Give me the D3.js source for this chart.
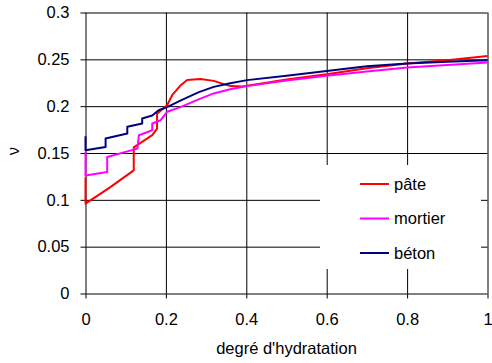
<!DOCTYPE html>
<html>
<head>
<meta charset="utf-8">
<script src="https://cdn.jsdelivr.net/npm/d3@7"></script>
<style>
  body { margin: 0; background: #fff; }
  text { font-family: "Liberation Sans", Arial, sans-serif; fill: #000; }
</style>
</head>
<body>
<div id="chart"></div>
<script>
// degré d'hydratation (x) and coefficient de Poisson (y)
const pateX = [0, 0, 0.06, 0.12, 0.12, 0.166, 0.178, 0.178, 0.203, 0.216, 0.236, 0.253, 0.286, 0.319, 0.344, 0.361, 0.39, 0.45, 0.5, 0.6, 0.7, 0.8, 0.9, 1.0];
const pateY = [0.124, 0.096, 0.113, 0.1315, 0.156, 0.169, 0.176, 0.192, 0.201, 0.212, 0.222, 0.228, 0.229, 0.227, 0.2235, 0.2214, 0.221, 0.225, 0.2285, 0.234, 0.2405, 0.2455, 0.249, 0.2535];

const mortierX = [0, 0, 0.054, 0.054, 0.129, 0.133, 0.166, 0.166, 0.187, 0.203, 0.236, 0.28, 0.319, 0.36, 0.402, 0.5, 0.6, 0.7, 0.8, 0.9, 1.0];
const mortierY = [0.151, 0.126, 0.1297, 0.1458, 0.1547, 0.169, 0.1743, 0.1815, 0.185, 0.194, 0.199, 0.207, 0.2136, 0.218, 0.2214, 0.2275, 0.2325, 0.237, 0.2414, 0.244, 0.2465];

const betonX = [0, 0, 0.05, 0.05, 0.104, 0.104, 0.141, 0.141, 0.166, 0.182, 0.203, 0.236, 0.282, 0.319, 0.36, 0.402, 0.5, 0.6, 0.7, 0.8, 0.9, 1.0];
const betonY = [0.168, 0.153, 0.1565, 0.1654, 0.1708, 0.178, 0.1815, 0.1868, 0.19, 0.1957, 0.199, 0.206, 0.215, 0.2206, 0.2245, 0.2278, 0.2325, 0.2375, 0.2425, 0.2456, 0.2475, 0.249];

const seriesNames = ['pâte', 'mortier', 'béton'];
const seriesColors = ['#ff0000', '#ff00ff', '#000080'];
const xTicks = [0, 0.2, 0.4, 0.6, 0.8, 1];
const yTicks = [0, 0.05, 0.1, 0.15, 0.2, 0.25, 0.3];

const width = 492, height = 363;
const margin = {left: 85.5, right: 4.5, top: 12.5, bottom: 69.5};
const plotW = width - margin.left - margin.right;
const plotH = height - margin.top - margin.bottom;

const svg = d3.select('#chart').append('svg')
  .attr('width', width).attr('height', height);

const x = d3.scaleLinear().domain([0, 1]).range([margin.left, width - margin.right]);
const y = d3.scaleLinear().domain([0, 0.3]).range([height - margin.bottom, margin.top]);

// grid (axis with long ticks, no labels)
const yGrid = svg.append('g')
  .attr('transform', 'translate(' + x(0) + ',0)')
  .call(d3.axisRight(y).tickValues(yTicks).tickSize(plotW).tickFormat(''));
const xGrid = svg.append('g')
  .attr('transform', 'translate(0,' + y(0.3) + ')')
  .call(d3.axisBottom(x).tickValues(xTicks).tickSize(plotH).tickFormat(''));
[yGrid, xGrid].forEach(g => {
  g.select('.domain').remove();
  g.selectAll('line').attr('stroke', '#000').attr('stroke-width', 1);
});

// axes
const fmt = d => String(d);
const yAxis = d3.axisLeft(y).tickValues(yTicks).tickFormat(fmt).tickSize(5).tickSizeOuter(0).tickPadding(11);
const yg = svg.append('g').attr('transform', 'translate(' + x(0) + ',0)').call(yAxis);
const xAxis = d3.axisBottom(x).tickValues(xTicks).tickFormat(fmt).tickSize(5).tickSizeOuter(0).tickPadding(15);
const xg = svg.append('g').attr('transform', 'translate(0,' + y(0) + ')').call(xAxis);
[yg, xg].forEach(g => {
  g.select('.domain').remove();
  g.selectAll('line').attr('stroke', '#000');
  g.selectAll('text').style('font-size', '16.5px').attr('fill', '#000');
});

// legend background hides the grid behind it
svg.append('rect')
  .attr('x', 320).attr('y', 165).attr('width', 161).attr('height', 104)
  .attr('fill', '#fff');

// curves
const data = [
  d3.zip(pateX, pateY),
  d3.zip(mortierX, mortierY),
  d3.zip(betonX, betonY)
];
const line = d3.line().x(d => x(d[0])).y(d => y(d[1]));
svg.append('g').selectAll('path').data(data).enter().append('path')
  .attr('d', line)
  .attr('fill', 'none')
  .attr('stroke', (d, i) => seriesColors[i])
  .attr('stroke-width', 2)
  .attr('stroke-linejoin', 'round');

// legend
const lg = svg.append('g').selectAll('g').data(seriesNames).enter().append('g')
  .attr('transform', (d, i) => 'translate(360,' + (184 + i * 34.5) + ')');
lg.append('line').attr('x1', 0).attr('x2', 29)
  .attr('stroke', (d, i) => seriesColors[i]).attr('stroke-width', 2);
lg.append('text').attr('x', 34).attr('dy', '0.35em')
  .style('font-size', '16.5px').text(d => d);

// axis titles
svg.append('text')
  .attr('x', (x(0) + x(1)) / 2).attr('y', 353.5)
  .attr('text-anchor', 'middle').style('font-size', '16.5px')
  .text("degré d'hydratation");
svg.append('text')
  .attr('transform', 'translate(19,151) rotate(-90)')
  .attr('text-anchor', 'middle').style('font-size', '16.5px')
  .text('ν');
</script>
</body>
</html>
